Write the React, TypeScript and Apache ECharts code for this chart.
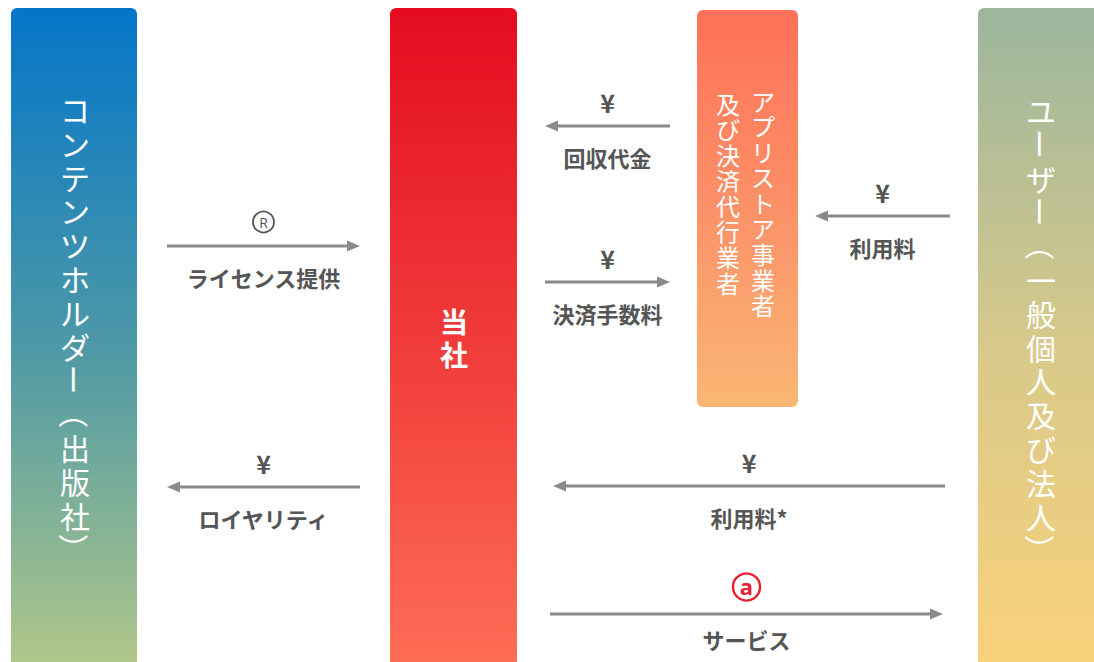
import React, { useEffect, useRef } from "react";
import * as echarts from "echarts";

// Entities (boxes) and flows (arrows) of the business-model diagram
const entityNames = [
  "コンテンツホルダー（出版社）",
  "当社",
  "アプリストア事業者|及び決済代行業者",
  "ユーザー（一般個人及び法人）",
];
const flowSymbols = ["®", "¥", "¥", "¥", "¥", "¥", "ⓐ"];
const flowLabels = ["ライセンス提供", "ロイヤリティ", "回収代金", "決済手数料", "利用料", "利用料*", "サービス"];

// Layout (pixel geometry)
const boxes = [
  { x: 11, y: 8, w: 126, h: 680, top: "#0476c9", mid: "#4d99a6", bottom: "#b8ca88", cols: [75], ys: [109], step: 33.8, size: 30, weight: "normal" },
  { x: 390, y: 8, w: 127, h: 680, top: "#e50c20", mid: "#f03c3a", bottom: "#ff7158", cols: [454], ys: [321], step: 33, size: 28, weight: "bold" },
  { x: 697, y: 10, w: 101, h: 397, top: "#ff7158", mid: "#fb9168", bottom: "#f9b774", cols: [763, 728], ys: [100, 103], step: 25.6, size: 24, weight: "normal" },
  { x: 978, y: 8, w: 126, h: 680, top: "#9bb69d", mid: "#d8c98a", bottom: "#fcd27a", cols: [1041], ys: [110], step: 33.8, size: 30, weight: "normal" },
];
const flowGeom = [
  { x1: 167, x2: 360, y: 246 },
  { x1: 360, x2: 167, y: 487 },
  { x1: 670, x2: 545, y: 126 },
  { x1: 545, x2: 670, y: 282 },
  { x1: 950, x2: 815, y: 216 },
  { x1: 945, x2: 553, y: 486 },
  { x1: 550, x2: 943, y: 614 },
];

const FONT = '"Noto Sans CJK JP", "Noto Sans", sans-serif';
const ROTATE_CHARS = "ー（）";
const GRAY = "#8a8a8a";
const TEXT = "#555555";
const RED = "#e8202f";

function centered(extra: any) {
  return { align: "center", verticalAlign: "middle", textAlign: "center", textVerticalAlign: "middle", fontFamily: FONT, ...extra };
}

// Vertical text: runs of upright characters become one multi-line text,
// characters that turn sideways in vertical writing are drawn rotated.
function vText(str: string, x: number, y0: number, step: number, size: number, weight: string) {
  const chars = Array.from(str);
  const out: any[] = [];
  let i = 0;
  while (i < chars.length) {
    if (ROTATE_CHARS.includes(chars[i])) {
      out.push({
        type: "text",
        x,
        y: y0 + i * step,
        rotation: -Math.PI / 2,
        style: centered({ text: chars[i], fill: "#ffffff", fontSize: size, fontWeight: weight, lineHeight: size }),
      });
      i++;
    } else {
      let j = i;
      while (j < chars.length && !ROTATE_CHARS.includes(chars[j])) j++;
      out.push({
        type: "text",
        x,
        y: y0 + ((i + j - 1) / 2) * step,
        style: centered({ text: chars.slice(i, j).join("\n"), fill: "#ffffff", fontSize: size, fontWeight: weight, lineHeight: step }),
      });
      i = j;
    }
  }
  return out;
}

export default function App() {
  const ref = useRef<HTMLDivElement>(null);
  useEffect(() => {
    if (!ref.current) return;
    const chart = echarts.init(ref.current, null, { renderer: "svg" });
    const els: any[] = [];

    boxes.forEach((b, i) => {
      els.push({
        type: "rect",
        shape: { x: b.x, y: b.y, width: b.w, height: b.h, r: 6 },
        style: {
          fill: new echarts.graphic.LinearGradient(0, 0, 0, 1, [
            { offset: 0, color: b.top },
            { offset: 0.5, color: b.mid },
            { offset: 1, color: b.bottom },
          ]),
        },
      });
      entityNames[i].split("|").forEach((c, ci) => {
        els.push(...vText(c, b.cols[ci], b.ys[ci], b.step, b.size, b.weight));
      });
    });

    flowGeom.forEach((f, i) => {
      const dir = f.x2 > f.x1 ? 1 : -1;
      const head = 13;
      els.push({
        type: "line",
        shape: { x1: f.x1, y1: f.y, x2: f.x2 - dir * head, y2: f.y },
        style: { stroke: GRAY, lineWidth: 3 },
      });
      els.push({
        type: "polygon",
        shape: { points: [[f.x2, f.y], [f.x2 - dir * head, f.y - 5.5], [f.x2 - dir * head, f.y + 5.5]] },
        style: { fill: GRAY },
      });
      const cx = (f.x1 + f.x2) / 2;
      const sym = flowSymbols[i];
      if (sym === "ⓐ" || sym === "®") {
        const isA = sym === "ⓐ";
        const cy = f.y - (isA ? 27 : 24);
        const col = isA ? RED : TEXT;
        els.push({
          type: "circle",
          shape: { cx, cy, r: isA ? 13.5 : 10.5 },
          style: { fill: "none", stroke: col, lineWidth: isA ? 2.4 : 1.8 },
        });
        els.push({
          type: "text",
          x: cx,
          y: cy + (isA ? -1.5 : 0),
          style: centered({ text: isA ? "a" : "R", fill: col, fontSize: isA ? 22 : 14, fontWeight: isA ? "bold" : "normal", fontFamily: '"Open Sans", "Noto Sans", sans-serif' }),
        });
      } else {
        els.push({
          type: "text",
          x: cx,
          y: f.y - 24,
          style: centered({ text: sym, fill: TEXT, fontSize: 25, fontWeight: "bold" }),
        });
      }
      els.push({
        type: "text",
        x: cx,
        y: f.y + (sym === "ⓐ" ? 25 : 31),
        style: centered({ text: flowLabels[i], fill: TEXT, fontSize: 22, fontWeight: "bold" }),
      });
    });

    chart.setOption({ animation: false, backgroundColor: "#ffffff", graphic: { elements: els } });
    return () => chart.dispose();
  }, []);
  return <div ref={ref} style={{ position: "fixed", left: 0, top: 0, width: 1094, height: 662 }} />;
}
